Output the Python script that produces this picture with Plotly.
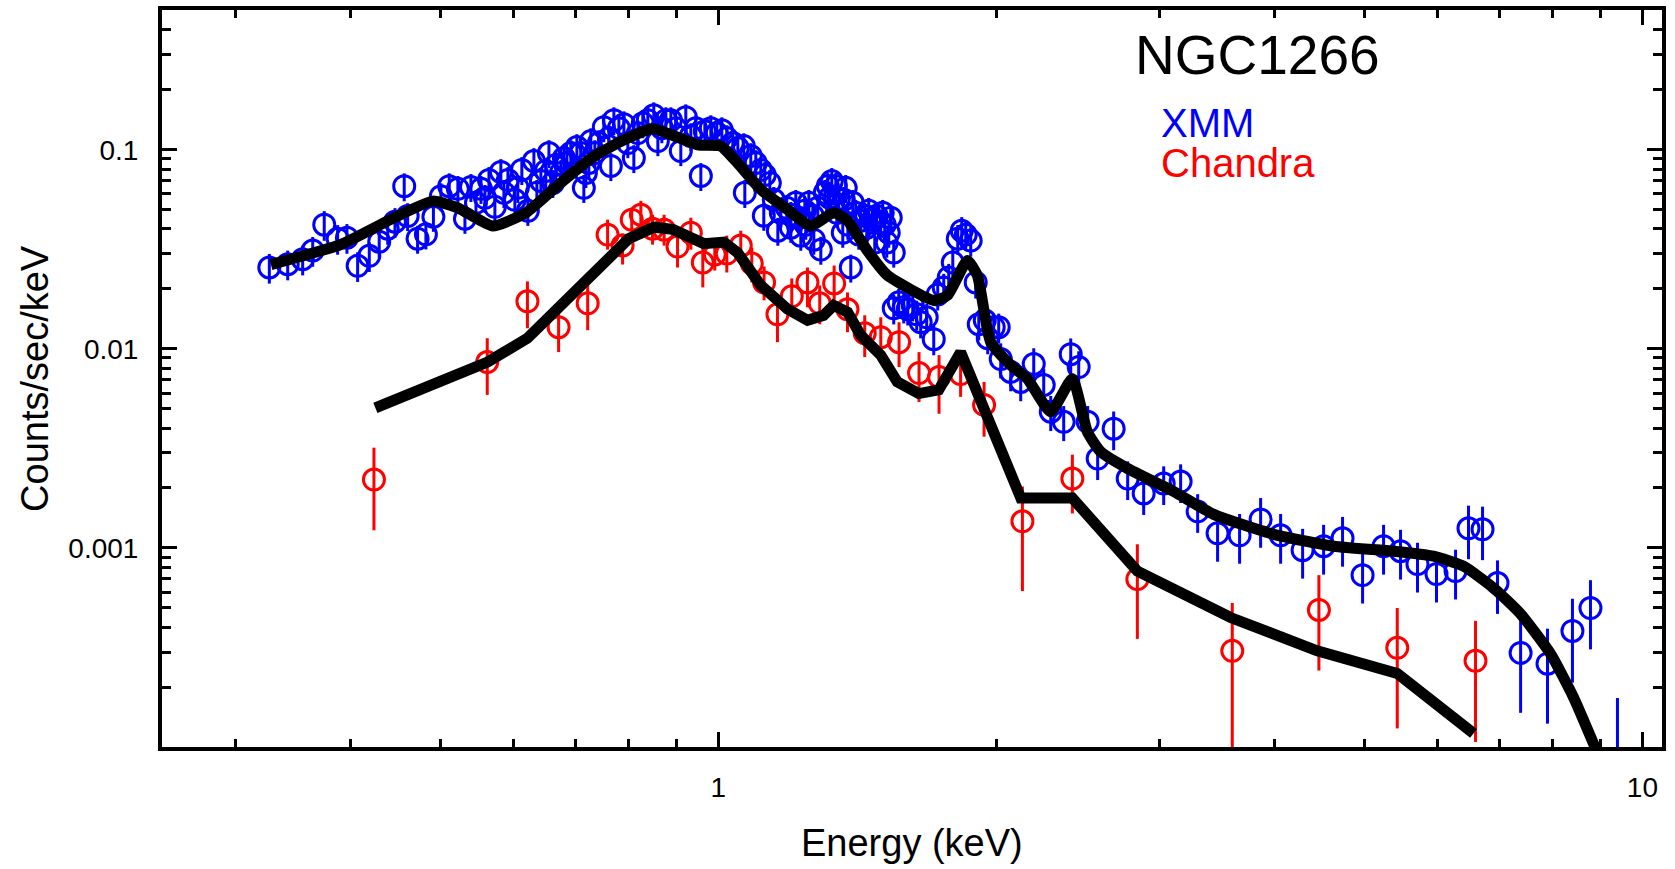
import plotly.graph_objects as go

# ---------------- data ----------------
# XMM spectrum (energy keV, counts/s/keV, relative error)
xmm_e = [0.3267, 0.342, 0.355, 0.364, 0.3746, 0.3873, 0.3964, 0.4071, 0.4191, 0.4296,
         0.4388, 0.4468, 0.4572, 0.4611, 0.4727, 0.4826, 0.4917, 0.501, 0.5115, 0.5226,
         0.5319, 0.5399, 0.5536, 0.5647, 0.5731, 0.5817, 0.592, 0.6024, 0.6129, 0.6222,
         0.6316, 0.6427, 0.6557, 0.6671, 0.6806, 0.6925, 0.703, 0.7153, 0.7243, 0.7352,
         0.7425, 0.7518, 0.7614, 0.7651, 0.7709, 0.7806, 0.7904, 0.7982, 0.8102, 0.8183,
         0.8285, 0.8389, 0.8515, 0.8602, 0.8688, 0.8775, 0.8885, 0.8995, 0.9108, 0.9222,
         0.9338, 0.9456, 0.9574, 0.967, 0.9815, 0.9963, 1.0088, 1.0214, 1.0368, 1.0498,
         1.0656, 1.0683, 1.0843, 1.0979, 1.1117, 1.1228, 1.12, 1.1369, 1.1482, 1.1599,
         1.1685, 1.1861, 1.198, 1.213, 1.2282, 1.2406, 1.253, 1.2687, 1.2813, 1.291,
         1.3039, 1.3137, 1.3269, 1.3402, 1.3501, 1.3673, 1.3809, 1.3911, 1.4085, 1.4262,
         1.4403, 1.4547, 1.4693, 1.4839, 1.4991, 1.514, 1.5291, 1.5483, 1.5483, 1.5677,
         1.5874, 1.6032, 1.6233, 1.6395, 1.6558, 1.6808, 1.7105, 1.7276, 1.7536, 1.7756,
         1.7936, 1.816, 1.8341, 1.8524, 1.8756, 1.8991, 1.9136, 1.9425, 1.9568, 1.9861,
         2.0111, 2.0212, 2.0722, 2.1244, 2.1945, 2.2498, 2.2895, 2.3646, 2.4064, 2.4547,
         2.5102, 2.5734, 2.6781, 2.7733, 2.886, 3.0337, 3.1645, 3.3016, 3.4696, 3.6652,
         3.8624, 4.0598, 4.2885, 4.5186, 4.7371, 4.9797, 5.2468, 5.4735, 5.7096, 5.9866,
         6.2777, 6.4834, 6.7143, 6.9695, 7.3824, 7.8937, 8.4002, 8.786, 9.3973,
         1.320, 1.3436, 1.3737, 1.3981, 1.4191, 1.4476, 1.4767, 1.5063, 1.5216, 1.5368,
         1.3636, 1.198, 1.2434, 1.2655, 1.2221, 0.6506, 0.6756, 0.6858, 0.7099, 0.7279,
         0.7189, 0.6622, 0.6363, 0.6068, 0.5861, 0.5467, 0.5591]
xmm_rate = [0.02562, 0.02661, 0.02818, 0.03115, 0.04203, 0.03577, 0.03618, 0.02612, 0.02931, 0.03455,
            0.04013, 0.0435, 0.06561, 0.04645, 0.03577, 0.03758, 0.04608, 0.05848, 0.06561, 0.06361,
            0.04503, 0.06509, 0.06361, 0.07055, 0.0517, 0.07736, 0.07055, 0.05604, 0.07916, 0.04937,
            0.08781, 0.06975, 0.09626, 0.08385, 0.09088, 0.09626, 0.1032, 0.06435, 0.0858, 0.09626,
            0.108, 0.1299, 0.1144, 0.08289, 0.1408, 0.1284, 0.1344, 0.108, 0.09088, 0.1212,
            0.136, 0.1408, 0.1491, 0.1105, 0.1284, 0.1408, 0.1408, 0.1284, 0.09851, 0.1457,
            0.1171, 0.1284, 0.07388, 0.124, 0.1284, 0.1212, 0.1254, 0.1144, 0.108, 0.102,
            0.1043, 0.06074, 0.093, 0.0858, 0.07916, 0.07473, 0.04661, 0.06816, 0.05604, 0.03922,
            0.04825, 0.05111, 0.04715, 0.05414, 0.03702, 0.04937, 0.05414, 0.03536, 0.05111, 0.0315,
            0.06074, 0.06584, 0.06975, 0.06584, 0.05669, 0.05604, 0.04203, 0.02562, 0.04825, 0.04401,
            0.04661, 0.04937, 0.04453, 0.04661, 0.043, 0.04203, 0.03832, 0.03045, 0.01598, 0.01712,
            0.01616, 0.01579, 0.01654, 0.01491, 0.0136, 0.0144, 0.01118, 0.01877, 0.02035, 0.02283,
            0.02713, 0.03577, 0.03922, 0.03747, 0.03496, 0.02156, 0.01329, 0.01391, 0.01131, 0.01284,
            0.01284, 0.00888, 0.00765, 0.00682, 0.00839, 0.00659, 0.00483, 0.0043, 0.0094, 0.0081,
            0.0043, 0.00281, 0.00397, 0.00223, 0.001877, 0.002106, 0.002155, 0.001526, 0.001184, 0.001157,
            0.001391, 0.001157, 0.000974, 0.00102, 0.001118, 0.00073, 0.00102, 0.000963, 0.000829, 0.000739,
            0.000765, 0.001254, 0.00124, 0.000666, 0.000297, 0.000262, 0.000383, 0.000499, 0.0000607,
            0.05734, 0.04825, 0.06435, 0.05414, 0.03747, 0.04059, 0.03416, 0.04825, 0.03416, 0.04557,
            0.03832, 0.04059, 0.04203, 0.04661, 0.04557, 0.07826, 0.07648, 0.0858, 0.09626, 0.1105,
            0.07648, 0.06816, 0.06074, 0.06435, 0.06074, 0.05414, 0.05734]
xmm_relerr = [0.17, 0.17, 0.17, 0.17, 0.17, 0.17, 0.17, 0.17, 0.17, 0.17,
              0.17, 0.17, 0.16, 0.16, 0.16, 0.16, 0.16, 0.16, 0.16, 0.16,
              0.16, 0.16, 0.16, 0.16, 0.16, 0.16, 0.16, 0.16, 0.16, 0.16,
              0.16, 0.16, 0.16, 0.16, 0.16, 0.16, 0.16, 0.16, 0.16, 0.16,
              0.16, 0.16, 0.16, 0.16, 0.16, 0.16, 0.16, 0.16, 0.16, 0.16,
              0.16, 0.16, 0.16, 0.16, 0.16, 0.16, 0.16, 0.16, 0.16, 0.16,
              0.16, 0.16, 0.16, 0.16, 0.16, 0.16, 0.16, 0.16, 0.16, 0.16,
              0.16, 0.16, 0.16, 0.16, 0.16, 0.16, 0.16, 0.16, 0.16, 0.16,
              0.16, 0.16, 0.16, 0.16, 0.16, 0.16, 0.16, 0.16, 0.16, 0.16,
              0.16, 0.16, 0.16, 0.16, 0.16, 0.16, 0.16, 0.16, 0.16, 0.16,
              0.16, 0.16, 0.16, 0.16, 0.16, 0.16, 0.16, 0.16, 0.17, 0.17,
              0.17, 0.17, 0.17, 0.17, 0.17, 0.17, 0.17, 0.17, 0.17, 0.17,
              0.17, 0.17, 0.17, 0.17, 0.17, 0.17, 0.17, 0.17, 0.17, 0.17,
              0.17, 0.2, 0.2, 0.2, 0.2, 0.2, 0.2, 0.2, 0.2, 0.2,
              0.2, 0.22, 0.22, 0.22, 0.22, 0.22, 0.22, 0.22, 0.28, 0.28,
              0.28, 0.28, 0.28, 0.28, 0.28, 0.28, 0.28, 0.28, 0.28, 0.28,
              0.28, 0.3, 0.3, 0.3, 0.5, 0.5, 0.45, 0.38, 1.9,
              0.16, 0.16, 0.16, 0.16, 0.16, 0.16, 0.16, 0.16, 0.16, 0.16,
              0.16, 0.16, 0.16, 0.16, 0.16, 0.16, 0.16, 0.16, 0.16, 0.16,
              0.16, 0.16, 0.16, 0.16, 0.16, 0.16, 0.16]

# Chandra spectrum (energy keV, counts/s/keV, upper and lower bounds)
chandra_e = [0.424, 0.5623, 0.6215, 0.6717, 0.7222, 0.7589, 0.7878, 0.806, 0.8245, 0.8489,
             0.8737, 0.9034, 0.9338, 0.9621, 0.9913, 1.0214, 1.0576, 1.087, 1.1208, 1.1588,
             1.2009, 1.2487, 1.2875, 1.3346, 1.3797, 1.4403, 1.4991, 1.5689, 1.649, 1.7332,
             1.829, 1.9391, 2.1335, 2.4162, 2.841, 3.599, 4.466, 5.429, 6.598]
chandra_rate = [0.002205, 0.00858, 0.01732, 0.01284, 0.01693, 0.03747, 0.033, 0.04453, 0.04716, 0.04013,
                0.03967, 0.03262, 0.03834, 0.02713, 0.02974, 0.03009, 0.033, 0.02682, 0.02156, 0.01491,
                0.01835, 0.02156, 0.01693, 0.0213, 0.01579, 0.01198, 0.01144, 0.0108, 0.00756, 0.00722,
                0.00747, 0.00523, 0.00136, 0.00223, 0.000697, 0.000304, 0.000488, 0.000315, 0.000271]
chandra_hi = [0.003188, 0.01131, 0.02181, 0.01654, 0.02107, 0.04453, 0.03791, 0.0511, 0.05538, 0.04716,
              0.04716, 0.03922, 0.04557, 0.033, 0.03536, 0.03704, 0.03922, 0.03225, 0.02592, 0.01856,
              0.02257, 0.02562, 0.02082, 0.0262, 0.0192, 0.01474, 0.0144, 0.0136, 0.00963, 0.0093,
              0.0093, 0.00682, 0.002034, 0.00294, 0.001043, 0.000529, 0.00073, 0.000499, 0.00043]
chandra_lo = [0.001226, 0.00587, 0.01269, 0.00963, 0.0124, 0.0315, 0.02651, 0.03416, 0.03577, 0.03338,
              0.033, 0.02562, 0.0315, 0.02035, 0.02474, 0.02418, 0.02651, 0.02156, 0.01752, 0.0108,
              0.01491, 0.01616, 0.01329, 0.01712, 0.01212, 0.00909, 0.00858, 0.0081, 0.00541, 0.00472,
              0.00574, 0.00362, 0.000607, 0.00149, 0.000349, 0.0000765, 0.000242, 0.000124, 0.000106]

# Folded models
xmm_model_e = [0.328, 0.3906, 0.4422, 0.4908, 0.5224, 0.5699, 0.6191, 0.679, 0.7338, 0.7909,
               0.8488, 0.9495, 1.0062, 1.049, 1.1118, 1.188, 1.259, 1.333, 1.38, 1.45,
               1.524, 1.711, 1.77, 1.86, 1.907, 1.971, 2.072, 2.16, 2.289, 2.416,
               2.508, 2.593, 2.771, 3.11, 3.436, 3.99, 4.634, 5.38, 5.943, 6.404,
               6.901, 7.382, 7.954, 8.425, 9.008]
xmm_model = [0.0265, 0.0335, 0.0447, 0.0552, 0.0511, 0.0414, 0.04825, 0.06975, 0.0927, 0.1122,
             0.1276, 0.1059, 0.1043, 0.0858, 0.0631, 0.0501, 0.0414, 0.0483, 0.044, 0.0311,
             0.0234, 0.0175, 0.01856, 0.02777, 0.02336, 0.0108, 0.00829, 0.00708, 0.00483, 0.00708,
             0.00383, 0.00304, 0.00251, 0.00192, 0.001474, 0.00117, 0.00102, 0.000963, 0.000909, 0.00081,
             0.000629, 0.000466, 0.000294, 0.000177, 0.0000858]
chandra_model_e = [0.4255, 0.5627, 0.6216, 0.6806, 0.7649, 0.8001, 0.8517, 0.8929, 0.9645, 1.0138,
                   1.049, 1.1118, 1.188, 1.249, 1.3, 1.333, 1.38, 1.426, 1.499, 1.562,
                   1.648, 1.732, 1.829, 1.937, 2.125, 2.416, 2.841, 3.584, 4.447, 5.429, 6.565]
chandra_model = [0.00505, 0.00858, 0.01131, 0.01712, 0.03045, 0.03577, 0.04083, 0.0398, 0.03377, 0.03436,
                 0.03045, 0.02082, 0.01585, 0.01391, 0.01474, 0.01654, 0.01526, 0.0117, 0.0093, 0.00682,
                 0.00596, 0.00622, 0.00962, 0.00501, 0.00178, 0.00178, 0.000765, 0.000447, 0.000304, 0.000234, 0.000117]

x_ticks = [1, 10]
x_ticklabels = ["1", "10"]
y_ticks = [0.001, 0.01, 0.1]
y_ticklabels = ["0.001", "0.01", "0.1"]

# ---------------- figure ----------------
FONT = "Liberation Sans, Arial, Helvetica, sans-serif"
BLUE = "#0000ff"
RED = "#ff0000"

xmm_up = [v * r for v, r in zip(xmm_rate, xmm_relerr)]
xmm_dn = [v * min(r, 0.95) for v, r in zip(xmm_rate, xmm_relerr)]
ch_up = [h - v for h, v in zip(chandra_hi, chandra_rate)]
ch_dn = [v - l for v, l in zip(chandra_rate, chandra_lo)]

fig = go.Figure()
fig.add_trace(go.Scatter(
    x=xmm_e, y=xmm_rate, mode="markers", name="XMM",
    marker=dict(symbol="circle-open", size=21, color=BLUE, line=dict(width=3, color=BLUE)),
    error_y=dict(type="data", array=xmm_up, arrayminus=xmm_dn, color=BLUE, thickness=3, width=0),
))
fig.add_trace(go.Scatter(
    x=chandra_e, y=chandra_rate, mode="markers", name="Chandra",
    marker=dict(symbol="circle-open", size=21, color=RED, line=dict(width=3, color=RED)),
    error_y=dict(type="data", array=ch_up, arrayminus=ch_dn, color=RED, thickness=3, width=0),
))
fig.add_trace(go.Scatter(x=xmm_model_e, y=xmm_model, mode="lines",
                         line=dict(color="black", width=11, shape="spline", smoothing=0.5),
                         name="XMM model"))
fig.add_trace(go.Scatter(x=chandra_model_e, y=chandra_model, mode="lines",
                         line=dict(color="black", width=11), name="Chandra model"))

x_minor = [0.3, 0.4, 0.5, 0.6, 0.7, 0.8, 0.9, 2, 3, 4, 5, 6, 7, 8, 9]
y_minor = [m * d for d in (1e-4, 1e-3, 1e-2) for m in range(2, 10)] + [0.2, 0.3, 0.4]

axis_common = dict(
    showline=True, linewidth=4, linecolor="black", mirror="allticks",
    ticks="inside", ticklen=15, tickwidth=3, tickcolor="black",
    showgrid=False, zeroline=False,
    tickfont=dict(family=FONT, size=28, color="black"),
)

fig.update_layout(
    width=1675, height=869,
    margin=dict(l=162, r=13, t=6, b=122),
    paper_bgcolor="white", plot_bgcolor="white",
    showlegend=False,
    font=dict(family=FONT, color="black"),
    xaxis=dict(type="log", range=[-0.602, 1.0212], tickmode="array",
               tickvals=x_ticks, ticktext=x_ticklabels, ticklabelstandoff=12,
               minor=dict(ticks="inside", ticklen=8, tickwidth=3, tickcolor="black",
                          tickmode="array", tickvals=x_minor, showgrid=False),
               **axis_common),
    yaxis=dict(type="log", range=[-4.0, -0.298], tickmode="array",
               tickvals=y_ticks, ticktext=y_ticklabels, ticklabelstandoff=14,
               minor=dict(ticks="inside", ticklen=9, tickwidth=3, tickcolor="black",
                          tickmode="array", tickvals=y_minor, showgrid=False),
               **axis_common),
    annotations=[
        dict(text="NGC1266", xref="paper", yref="paper", x=0.6473, y=0.9395,
             xanchor="left", yanchor="middle", showarrow=False,
             font=dict(family=FONT, size=55, color="black")),
        dict(text="XMM", xref="paper", yref="paper", x=0.6647, y=0.8462,
             xanchor="left", yanchor="middle", showarrow=False,
             font=dict(family=FONT, size=40, color=BLUE)),
        dict(text="Chandra", xref="paper", yref="paper", x=0.6647, y=0.7921,
             xanchor="left", yanchor="middle", showarrow=False,
             font=dict(family=FONT, size=40, color=RED)),
        dict(text="Energy (keV)", xref="paper", yref="paper", x=0.4997, y=-0.1296,
             xanchor="center", yanchor="middle", showarrow=False,
             font=dict(family=FONT, size=38, color="black")),
        dict(text="Counts/sec/keV", xref="paper", yref="paper", x=-0.0847, y=0.5007,
             xanchor="center", yanchor="middle", showarrow=False, textangle=-90,
             font=dict(family=FONT, size=38, color="black")),
    ],
)

fig.write_html("out.html")
